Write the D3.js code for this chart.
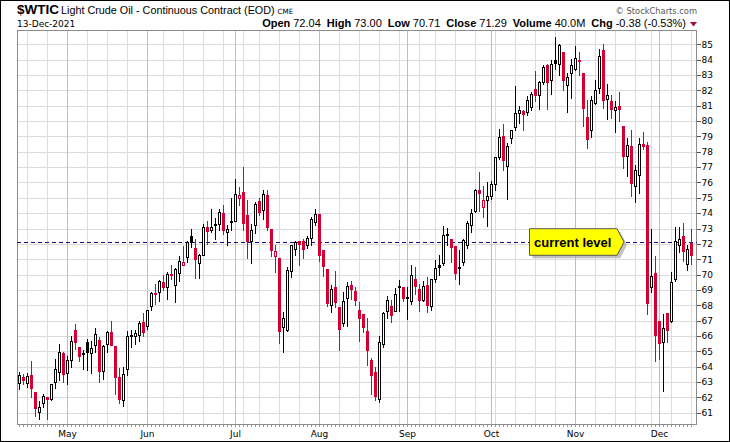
<!DOCTYPE html>
<html><head><meta charset="utf-8">
<script src="https://cdn.jsdelivr.net/npm/d3@7"></script>
<style>html,body{margin:0;padding:0;background:#fff;overflow:hidden}</style>
</head><body>
<svg id="c" width="730" height="442"></svg>
<script>
const dates = [
"04-15","04-16","04-19","04-20","04-21","04-22","04-23","04-26","04-27","04-28","04-29","04-30",
"05-03","05-04","05-05","05-06","05-07","05-10","05-11","05-12","05-13","05-14","05-17","05-18","05-19","05-20","05-21","05-24","05-25","05-26","05-27","05-28",
"06-01","06-02","06-03","06-04","06-07","06-08","06-09","06-10","06-11","06-14","06-15","06-16","06-17","06-18","06-21","06-22","06-23","06-24","06-25","06-28","06-29","06-30",
"07-01","07-02","07-06","07-07","07-08","07-09","07-12","07-13","07-14","07-15","07-16","07-19","07-20","07-21","07-22","07-23","07-26","07-27","07-28","07-29","07-30",
"08-02","08-03","08-04","08-05","08-06","08-09","08-10","08-11","08-12","08-13","08-16","08-17","08-18","08-19","08-20","08-23","08-24","08-25","08-26","08-27","08-30","08-31",
"09-01","09-02","09-03","09-07","09-08","09-09","09-10","09-13","09-14","09-15","09-16","09-17","09-20","09-21","09-22","09-23","09-24","09-27","09-28","09-29","09-30",
"10-01","10-04","10-05","10-06","10-07","10-08","10-11","10-12","10-13","10-14","10-15","10-18","10-19","10-20","10-21","10-22","10-25","10-26","10-27","10-28","10-29",
"11-01","11-02","11-03","11-04","11-05","11-08","11-09","11-10","11-11","11-12","11-15","11-16","11-17","11-18","11-19","11-22","11-23","11-24","11-26","11-29","11-30",
"12-01","12-02","12-03","12-06","12-07","12-08","12-09","12-10","12-13"];

const open = [
62.93,63.33,62.93,63.48,62.37,61.07,61.63,62.04,61.89,63.0,63.63,64.87,
63.59,64.46,66.4,65.26,64.9,65.6,64.9,65.4,65.76,63.74,65.48,66.28,65.33,63.3,61.8,63.85,66.0,65.98,66.09,66.9,
66.63,67.93,68.8,68.85,69.54,69.2,70.02,69.3,70.1,70.62,71.13,72.48,71.72,70.76,71.3,73.07,72.9,73.28,73.3,74.04,72.78,73.48,
73.52,75.0,75.4,73.85,72.17,73.24,74.76,74.2,75.2,72.98,71.22,71.09,66.6,66.39,70.26,71.67,72.2,72.2,71.9,72.37,73.41,
73.96,71.57,70.33,68.02,69.17,67.87,66.83,68.5,69.33,68.91,67.7,67.46,66.35,64.46,63.63,61.89,65.48,67.61,67.98,67.65,69.28,69.22,
68.5,68.3,69.74,69.09,68.35,69.33,67.93,69.72,70.63,70.76,72.67,72.33,71.83,70.45,70.85,71.93,73.26,74.17,75.48,74.39,74.83,
75.11,75.91,77.65,79.04,77.04,78.9,79.6,80.52,80.63,80.59,80.91,82.07,81.67,82.54,83.63,82.65,84.0,83.74,84.5,82.33,83.15,
83.41,83.96,83.13,80.26,79.39,81.17,82.17,84.6,81.46,81.3,80.7,80.96,79.65,77.7,78.35,75.74,76.5,78.52,78.41,69.17,70.09,
67.0,65.63,67.5,67.0,69.72,71.95,72.54,70.7,72.04];

const high = [
63.63,63.5,63.57,64.39,62.37,61.78,62.2,62.05,62.9,64.5,65.48,64.93,
64.7,66.0,66.76,65.3,65.1,65.8,65.7,66.55,65.9,65.4,66.35,67.0,65.33,63.9,64.0,66.35,66.4,66.4,67.0,67.5,
67.7,68.85,69.37,69.65,70.0,70.17,70.65,70.4,71.24,71.87,72.2,72.98,72.33,71.35,73.3,73.5,74.28,73.67,74.24,74.5,73.2,75.0,
76.2,75.7,77.0,74.87,73.3,74.7,75.0,75.54,75.48,73.0,71.9,71.09,67.54,70.48,71.93,72.2,72.2,72.3,72.54,73.74,74.28,
73.96,71.6,70.33,69.33,70.2,67.87,68.85,69.5,69.6,69.2,68.24,67.46,67.17,64.54,63.96,66.02,67.54,68.59,68.35,69.1,69.65,69.22,
69.2,70.65,70.52,69.4,69.57,69.87,69.72,70.96,71.3,73.15,73.04,72.33,71.83,71.6,72.33,73.52,74.28,75.6,76.7,75.8,76.0,
76.09,77.65,79.5,79.83,78.6,79.4,82.26,81.0,80.7,81.6,81.9,83.26,82.6,83.63,83.74,83.96,85.5,85.0,84.5,83.13,84.02,
84.9,84.5,83.13,81.35,81.6,82.7,84.67,85.0,82.4,81.67,81.28,81.9,79.7,78.9,79.4,77.15,78.9,79.28,78.66,72.98,71.24,
67.0,67.43,67.5,70.15,73.09,73.09,73.35,71.9,73.0];

const low = [
62.54,62.9,62.7,62.0,60.76,60.6,61.4,60.6,61.85,62.6,63.1,62.98,
62.9,63.95,65.15,64.4,63.85,63.8,63.6,64.93,63.0,63.2,64.93,65.4,62.2,61.6,61.46,63.48,65.26,65.5,65.7,66.0,
66.46,67.7,68.1,68.28,69.0,68.4,69.7,68.2,69.6,70.6,70.8,71.78,69.78,69.8,71.3,72.0,72.8,72.33,72.9,72.65,71.93,72.9,
73.52,74.5,72.9,71.07,70.74,72.7,73.9,73.63,72.9,71.2,70.15,65.52,64.93,66.3,69.87,71.3,70.6,71.1,71.7,71.9,73.2,
70.9,69.9,67.93,67.54,67.9,65.1,66.67,66.67,68.4,68.0,65.65,66.28,64.09,62.2,61.8,61.67,65.3,67.2,66.93,67.6,67.6,68.3,
67.1,68.1,68.74,67.6,68.3,67.54,67.67,69.5,70.0,70.6,71.9,70.8,69.7,69.4,70.6,71.7,72.76,74.1,74.17,73.74,73.15,
74.9,75.5,77.5,76.8,74.95,78.6,79.4,79.9,79.4,80.4,80.7,81.3,80.78,82.4,80.8,81.78,83.4,82.98,82.0,80.6,81.47,
83.3,82.98,79.67,78.24,78.96,81.1,81.83,80.85,80.15,80.2,79.3,80.0,76.93,76.4,75.1,74.7,75.3,78.2,67.43,68.85,64.35,
64.5,62.43,65.6,66.9,69.6,71.5,70.9,70.3,70.71];

const close = [
63.48,63.11,63.39,62.59,61.3,61.39,62.1,61.89,62.87,63.85,64.93,63.52,
64.46,65.7,65.6,64.67,64.92,64.95,65.24,66.1,63.74,65.37,66.28,65.43,63.3,61.9,63.52,66.02,66.07,66.2,66.85,66.24,
67.7,68.8,68.72,69.57,69.17,70.04,69.95,70.33,70.87,70.84,72.1,72.13,71.02,71.3,73.09,72.83,73.1,73.3,74.1,72.91,72.98,73.52,
75.26,75.2,73.37,72.17,72.91,74.57,74.07,75.26,73.09,71.63,71.55,66.3,67.17,70.3,71.93,72.1,71.96,71.67,72.39,73.63,73.96,
71.28,70.54,68.13,69.07,68.24,66.46,68.3,69.26,69.04,68.37,67.2,66.57,65.11,63.46,62.07,65.63,67.5,68.35,67.37,68.74,69.2,68.48,
68.57,69.98,69.28,68.35,69.26,68.04,69.72,70.43,70.46,72.59,72.61,71.78,70.11,70.5,72.22,73.35,74.0,75.48,75.3,74.87,75.09,
75.91,77.65,78.96,77.48,78.35,79.39,80.52,80.7,80.48,81.35,81.78,81.72,82.54,83.52,82.54,83.74,83.8,84.93,82.65,82.87,83.63,
84.13,83.91,80.85,78.8,81.35,82.0,84.22,81.4,81.67,80.76,80.93,80.78,77.7,78.46,75.96,76.78,78.52,78.37,68.13,69.93,66.09,
65.52,66.5,66.4,69.5,72.2,72.3,71.52,71.67,71.29];

const yTicks = [61,62,63,64,65,66,67,68,69,70,71,72,73,74,75,76,77,78,79,80,81,82,83,84,85];
const monthNames = ["Jan","Feb","Mar","Apr","May","Jun","Jul","Aug","Sep","Oct","Nov","Dec"];
const currentLevel = 72.12;
const headerStats = [["Open","72.04"],["High","73.00"],["Low","70.71"],["Close","71.29"],["Volume","40.0M"],["Chg","-0.38 (-0.53%)"]];

const L = 17, R = 697, T = 30, B = 425;
const RED = "#d50032", BLACK = "#000";
const svg = d3.select("#c");
svg.append("rect").attr("x",0).attr("y",0).attr("width",730).attr("height",442).attr("fill","#fff");

const n = dates.length;
const firstMay = dates.indexOf("05-03");
const x = d3.scaleLinear().domain([firstMay - 12.675, firstMay + 157.325]).range([L, R]);
const y = d3.scaleLinear().domain([61, 85]).range([412.7, 44.3]);
const cx = i => Math.floor(x(i)) + 0.5;

const parsed = dates.map(d => new Date(2021, +d.slice(0,2)-1, +d.slice(3)));
const weekStarts = [], monthStarts = [];
for (let i = 1; i < n; i++) {
  const gap = (parsed[i] - parsed[i-1]) / 86400000;
  if (parsed[i].getMonth() !== parsed[i-1].getMonth()) monthStarts.push(i);
  else if (parsed[i].getDay() < parsed[i-1].getDay() || gap > 3) weekStarts.push(i);
}

const g = svg.append("g").attr("shape-rendering","crispEdges");
g.selectAll(".hg").data(yTicks).join("line")
  .attr("x1",L).attr("x2",R).attr("y1",d=>Math.round(y(d))+0.5).attr("y2",d=>Math.round(y(d))+0.5)
  .attr("stroke","#dcdcdc");
g.selectAll(".wg").data(weekStarts).join("line")
  .attr("x1",cx).attr("x2",cx).attr("y1",T).attr("y2",B).attr("stroke","#dcdcdc");
g.selectAll(".mg").data(monthStarts).join("line")
  .attr("x1",cx).attr("x2",cx).attr("y1",T).attr("y2",B).attr("stroke","#bdbdbd");

svg.append("line").attr("x1",L).attr("x2",R)
  .attr("y1",Math.round(y(currentLevel))+0.5).attr("y2",Math.round(y(currentLevel))+0.5)
  .attr("stroke","#10108a").attr("stroke-dasharray","4,3").attr("shape-rendering","crispEdges");

const idx = d3.range(n);
const col = i => (i === 0 || close[i] >= close[i-1]) ? BLACK : RED;
const cg = svg.append("g").attr("shape-rendering","crispEdges");
cg.selectAll(".wick").data(idx).join("line")
  .attr("x1",cx).attr("x2",cx)
  .attr("y1",i=>Math.round(y(high[i]))).attr("y2",i=>Math.round(y(low[i]))+1)
  .attr("stroke",col);
cg.selectAll(".body").data(idx).join("rect")
  .attr("x",i=>cx(i)-1).attr("width",2)
  .attr("y",i=>Math.round(y(Math.max(open[i],close[i])))+0.5)
  .attr("height",i=>Math.max(1, Math.round(y(Math.min(open[i],close[i]))) - Math.round(y(Math.max(open[i],close[i])))))
  .attr("fill",i=> close[i] > open[i] ? "#fff" : col(i))
  .attr("stroke",col);

g.append("rect").attr("x",L+0.5).attr("y",T+0.5).attr("width",R-L-1).attr("height",B-T-1)
  .attr("fill","none").attr("stroke","#8c8c8c");
svg.append("g").attr("shape-rendering","crispEdges").selectAll("line").data(idx).join("line")
  .attr("x1",cx).attr("x2",cx).attr("y1",B).attr("y2",B+2).attr("stroke","#999");
const ya = svg.append("g");
ya.selectAll("line").data(yTicks).join("line").attr("shape-rendering","crispEdges")
  .attr("x1",R).attr("x2",R+4).attr("y1",d=>Math.round(y(d))+0.5).attr("y2",d=>Math.round(y(d))+0.5)
  .attr("stroke","#555");
ya.selectAll("text").data(yTicks).join("text")
  .attr("x",R+4.5).attr("y",d=>y(d)+3.3)
  .attr("font-family","DejaVu Sans").attr("font-size","9px").attr("fill","#000")
  .text(d=>d);
svg.append("g").selectAll("text").data(monthStarts).join("text")
  .attr("x",cx).attr("y",436.5).attr("text-anchor","middle")
  .attr("font-family","DejaVu Sans").attr("font-size","9px").attr("fill","#000")
  .text(i=>monthNames[parsed[i].getMonth()]);

svg.append("text").attr("x",17).attr("y",14.3).attr("font-family","Liberation Sans, Arial").attr("font-weight","bold")
  .attr("font-size","13.5px").text("$WTIC");
svg.append("text").attr("x",61).attr("y",14.3).attr("font-family","Liberation Sans, Arial")
  .attr("font-size","10.8px").text("Light Crude Oil - Continuous Contract (EOD)");
svg.append("text").attr("x",277.5).attr("y",14.3).attr("font-family","DejaVu Sans")
  .attr("font-size","7.2px").text("CME");
svg.append("text").attr("x",17).attr("y",26.7).attr("font-family","DejaVu Sans")
  .attr("font-size","9px").text("13-Dec-2021");
const ht = svg.append("text").attr("x",686).attr("y",26.7).attr("text-anchor","end")
  .attr("font-family","Liberation Sans, Arial").attr("font-size","11px");
headerStats.forEach(([k,v],j)=>{
  ht.append("tspan").attr("font-weight","bold").attr("dx", j===0?0:6).text(k);
  ht.append("tspan").attr("dx",3).text(v);
});
svg.append("polygon").attr("points","690,22 697,22 693.5,26.5").attr("fill","#a0103a");
svg.append("text").attr("x",697).attr("y",13.5).attr("text-anchor","end").attr("font-family","DejaVu Sans")
  .attr("font-size","8.3px").attr("fill","#555").text("\u00A9 StockCharts.com");

const ay = y(currentLevel);
const pts = (dx,dy)=>[[529.5,ay-13.3],[617,ay-13.3],[624,ay],[617,ay+13.3],[529.5,ay+13.3]].map(p=>[p[0]+dx,p[1]+dy].join(",")).join(" ");
svg.append("polygon").attr("points",pts(3,3)).attr("fill","#a8a8a8").attr("opacity",0.7);
svg.append("polygon").attr("points",pts(0,0)).attr("fill","#ffff00").attr("stroke","#555").attr("stroke-width",1);
svg.append("text").attr("x",534).attr("y",ay+4.5).attr("font-family","Liberation Sans, Arial").attr("font-weight","bold")
  .attr("font-size","13px").attr("fill","#000").text("current level");

svg.append("rect").attr("x",0.5).attr("y",0.5).attr("width",729).attr("height",441)
  .attr("fill","none").attr("stroke","#000").attr("shape-rendering","crispEdges");
</script>
</body></html>
